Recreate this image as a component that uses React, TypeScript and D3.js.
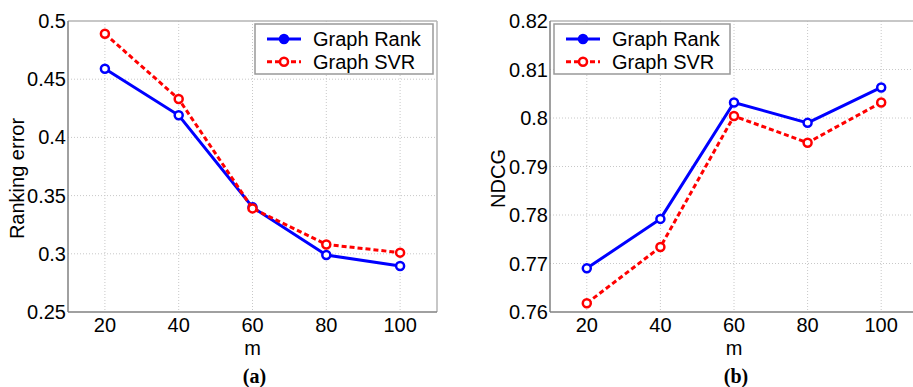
import React, { useEffect, useRef } from "react";
import * as d3 from "d3";

// values
const mValues = [20, 40, 60, 80, 100];
const rankErrorGraphRank = [0.459, 0.419, 0.34, 0.299, 0.2895];
const rankErrorGraphSVR = [0.489, 0.433, 0.339, 0.308, 0.301];
const ndcgGraphRank = [0.769, 0.7792, 0.8032, 0.799, 0.8063];
const ndcgGraphSVR = [0.7618, 0.7734, 0.8004, 0.7949, 0.8032];
const rankErrorTicks = [0.25, 0.3, 0.35, 0.4, 0.45, 0.5];
const ndcgTicks = [0.76, 0.77, 0.78, 0.79, 0.8, 0.81, 0.82];
const seriesNames = ["Graph Rank", "Graph SVR"];

const FONT = "'Liberation Sans', Arial, sans-serif";

const drawPanel = (root, opts) => {
  const { left, right, top, bottom, yDomain, yTicks, rank, svr, yLabel, yLabelX, legendX, legendW, caption } = opts;
  const g = root.append("g");

  const x = d3.scaleLinear().domain([10, 110]).range([left, right]);
  const y = d3.scaleLinear().domain(yDomain).range([bottom, top]);

  // grid
  g.selectAll("line.vgrid")
    .data(mValues)
    .enter()
    .append("line")
    .attr("x1", d => x(d)).attr("x2", d => x(d))
    .attr("y1", top).attr("y2", bottom)
    .attr("stroke", "#c8c8c8")
    .attr("stroke-width", 1)
    .attr("stroke-dasharray", "1,2");
  g.selectAll("line.hgrid")
    .data(yTicks.slice(1, -1))
    .enter()
    .append("line")
    .attr("x1", left).attr("x2", right)
    .attr("y1", d => y(d)).attr("y2", d => y(d))
    .attr("stroke", "#c8c8c8")
    .attr("stroke-width", 1)
    .attr("stroke-dasharray", "1,2");

  // box
  g.append("line").attr("x1", left).attr("x2", right).attr("y1", top).attr("y2", top)
    .attr("stroke", "#b4b4b4").attr("stroke-width", 1.5);
  g.append("line").attr("x1", right).attr("x2", right).attr("y1", top).attr("y2", bottom)
    .attr("stroke", "#b4b4b4").attr("stroke-width", 1.5);
  g.append("line").attr("x1", left).attr("x2", right).attr("y1", bottom).attr("y2", bottom)
    .attr("stroke", "#808080").attr("stroke-width", 1.5);
  g.append("line").attr("x1", left).attr("x2", left).attr("y1", top).attr("y2", bottom)
    .attr("stroke", "#808080").attr("stroke-width", 1.5);

  // tick labels
  g.selectAll("text.ytick")
    .data(yTicks)
    .enter()
    .append("text")
    .attr("x", left - 2)
    .attr("y", d => y(d) + 7)
    .attr("text-anchor", "end")
    .style("font-family", FONT)
    .style("font-size", "20px")
    .text(d => String(d));
  g.selectAll("text.xtick")
    .data(mValues)
    .enter()
    .append("text")
    .attr("x", d => x(d))
    .attr("y", 332)
    .attr("text-anchor", "middle")
    .style("font-family", FONT)
    .style("font-size", "20px")
    .text(d => String(d));

  g.append("text")
    .attr("x", x(60))
    .attr("y", 355)
    .attr("text-anchor", "middle")
    .style("font-family", FONT)
    .style("font-size", "20px")
    .text("m");

  g.append("text")
    .attr("transform", `translate(${yLabelX}, ${(top + bottom) / 2 + 12}) rotate(-90)`)
    .attr("text-anchor", "middle")
    .style("font-family", FONT)
    .style("font-size", "20px")
    .text(yLabel);

  g.append("text")
    .attr("x", x(60) + 2)
    .attr("y", 383)
    .attr("text-anchor", "middle")
    .style("font-family", "'Liberation Serif', 'Times New Roman', serif")
    .style("font-weight", "bold")
    .style("font-size", "20px")
    .text(caption);

  const line = d3.line().x((d, i) => x(mValues[i])).y(d => y(d));

  const series = [
    { name: seriesNames[0], values: rank, color: "#0000ff", dash: null },
    { name: seriesNames[1], values: svr, color: "#ff0000", dash: "5,3" },
  ];

  series.forEach(s => {
    g.append("path")
      .datum(s.values)
      .attr("d", line)
      .attr("fill", "none")
      .attr("stroke", s.color)
      .attr("stroke-width", 3)
      .attr("stroke-dasharray", s.dash);
    g.selectAll(null)
      .data(s.values)
      .enter()
      .append("circle")
      .attr("cx", (d, i) => x(mValues[i]))
      .attr("cy", d => y(d))
      .attr("r", 4)
      .attr("fill", "#fff")
      .attr("stroke", s.color)
      .attr("stroke-width", 2.5);
  });

  // legend
  const lg = g.append("g");
  lg.append("rect")
    .attr("x", legendX)
    .attr("y", 24)
    .attr("width", legendW)
    .attr("height", 50)
    .attr("fill", "#fff")
    .attr("stroke", "#999")
    .attr("stroke-width", 1.5);
  series.forEach((s, i) => {
    const cy = 39 + i * 22.7;
    lg.append("line")
      .attr("x1", legendX + 12).attr("x2", legendX + 46)
      .attr("y1", cy).attr("y2", cy)
      .attr("stroke", s.color)
      .attr("stroke-width", 3)
      .attr("stroke-dasharray", s.dash);
    lg.append("circle")
      .attr("cx", legendX + 29)
      .attr("cy", cy)
      .attr("r", 4)
      .attr("fill", i === 0 ? s.color : "#fff")
      .attr("stroke", s.color)
      .attr("stroke-width", 2.5);
    lg.append("text")
      .attr("x", legendX + 58)
      .attr("y", cy + 7)
      .style("font-family", FONT)
      .style("font-size", "20px")
      .text(s.name);
  });
};

const App = () => {
  const ref = useRef(null);

  useEffect(() => {
    const root = d3.select(ref.current);
    root.selectAll("*").remove();

    drawPanel(root, {
      left: 68, right: 437, top: 21, bottom: 312,
      yDomain: [0.25, 0.5], yTicks: rankErrorTicks,
      rank: rankErrorGraphRank, svr: rankErrorGraphSVR,
      yLabel: "Ranking error", yLabelX: 24,
      legendX: 255, legendW: 178, caption: "(a)",
    });

    drawPanel(root, {
      left: 550, right: 918, top: 21, bottom: 312,
      yDomain: [0.76, 0.82], yTicks: ndcgTicks,
      rank: ndcgGraphRank, svr: ndcgGraphSVR,
      yLabel: "NDCG", yLabelX: 505,
      legendX: 554, legendW: 176, caption: "(b)",
    });
  }, []);

  return (
    <svg
      ref={ref}
      width={913}
      height={387}
      style={{ position: "absolute", left: 0, top: 0, background: "#fff" }}
    ></svg>
  );
};

export default App;
